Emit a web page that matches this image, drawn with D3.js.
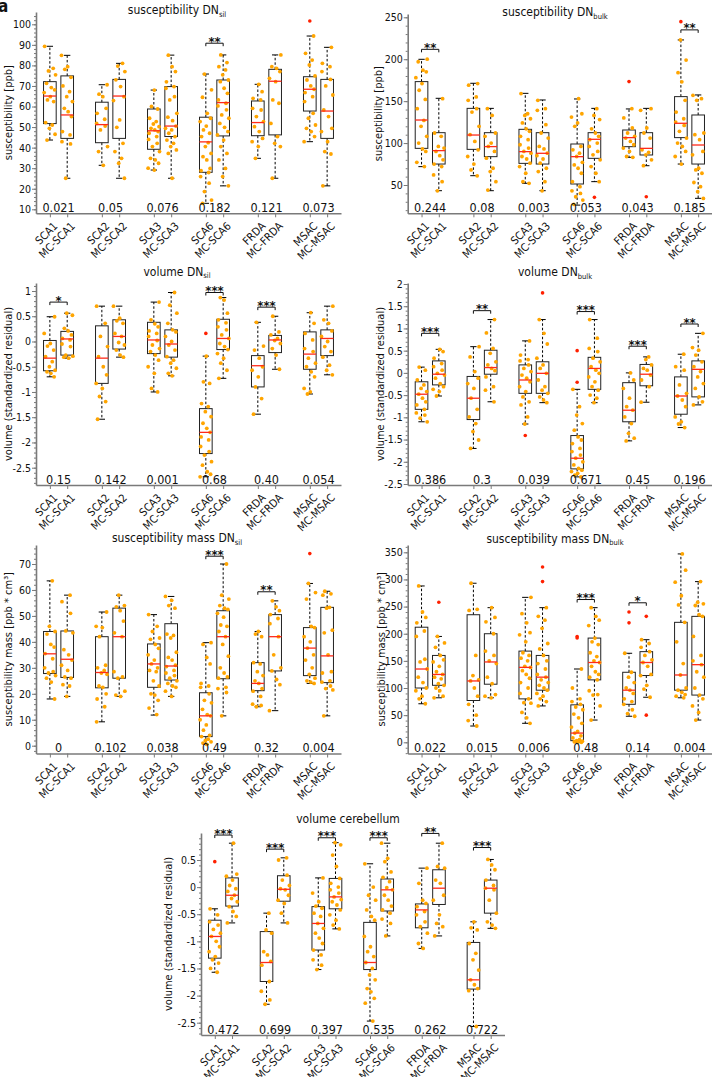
<!DOCTYPE html>
<html><head><meta charset="utf-8">
<script src="https://cdn.jsdelivr.net/npm/d3@7"></script>
<style>
body{margin:0;background:#fff}
svg{display:block}
text{font-family:"DejaVu Sans Condensed","DejaVu Sans",sans-serif;fill:#111}
</style>
</head><body><svg id="c" width="712" height="1077"></svg>
<script>
// ---------------- DATA ----------------
const categories = ["SCA1","MC-SCA1","SCA2","MC-SCA2","SCA3","MC-SCA3","SCA6","MC-SCA6","FRDA","MC-FRDA","MSAC","MC-MSAC"];

// box stats: [lower whisker, q1, median, q3, upper whisker]
const suscSilStats = [[43.7,51.7,65.1,72.1,89.3],[25.1,44.5,55.9,74.9,84.9],[31.4,42.4,51.2,62.1,70.6],[25.1,44.5,65.1,73.2,81],[29.1,39.2,48.2,58.8,68],[25.1,45.4,50.5,69.7,85],[12.9,28,42.8,54.8,75.8],[21.4,45.7,61.9,72.9,85.1],[34.8,45.8,52.2,62.7,70.8],[25.1,46.2,72.3,78.1,85.1],[42.9,57.8,68.4,74.5,94.3],[21.4,44.5,57.8,73.2,88.8]];
const suscSilPoints = [
[89.3,78.6,77.3,75.4,71.3,69.2,68.1,66.8,64.8,63.2,62.4,52.2,51,49.4,46.5,43.7],
[84.9,79.4,78.1,74.2,70,67.2,64.8,62.4,59.1,57.5,55.1,47.8,46.2,42.9,41.8,25.1],
[70.6,66,64.8,59.1,56.7,53.8,51.8,50.5,48.6,40.5,38.1,31.4],
[81,79.7,77,73,69.7,64.8,62.9,53.5,49.9,42.1,38.1,34.8,32.4,25.1],
[68,60,58.8,54.3,52.7,51.5,50.2,49.4,48.6,47.8,47,45.4,44,42.1,40.5,38.1,34.8,34,32.4,30,29.1],
[85,79.4,77,72,69.7,68.9,64.8,63.2,56.7,54.8,53.1,50.5,49.4,48.6,47,45.4,43.7,42.1,40.5,38.9,37.2,25.1],
[75.8,68.1,64.5,56.7,54.3,52.7,50.5,48.6,47,45.4,42.4,40.5,37.2,35.6,34,29.9,28.8,27.9,25.9,22.7,18.6,14.5,12.9],
[85.1,81.4,79.4,77.8,75.4,72.9,72.1,68.9,66.4,63.2,61.6,60.3,58.4,55.9,54.3,51.8,49.9,47.8,46.2,43.7,40.5,37.2,34,29.9,25.9,21.4],
[70.8,67.2,64,63.2,59.1,58.3,55.1,52.7,50.2,47.8,44.5,42.9,40.5,34.8],
[85.1,79.4,78.6,77,73.7,72.1,63.2,61.6,51.8,45.4,42.1,40.5,25.1],
[94.3,85.9,82.6,80.2,74.9,72.9,70,68.4,66.8,64.8,62.4,56.7,54.3,51,49.4,47.8,45.4,42.9],
[88.8,81,79.4,77,73.2,70,65.6,58.3,55.1,49.4,47.8,42.9,38.1,36.9,21.4]];
const suscSilOutliers = [[],[],[],[],[],[],[],[],[],[],[101.6],[]];
const suscSilP = ["0.021","0.05","0.076","0.182","0.121","0.073"];
const suscSilSig = [[3,"**",90.8]];
const suscSilTicks = [10,20,30,40,50,60,70,80,90,100];

const suscBulkStats = [[71.9,93.7,127.5,173.3,199.9],[43.2,75,91,112.4,153.4],[61.1,92.5,109.6,141.4,171.3],[43.2,83.8,95.8,112.4,141.4],[52,75.8,89.8,116.4,159.3],[43.2,75,87.8,112.4,151.4],[26,51.2,83.8,98.9,152.6],[54,81.8,104.5,112.4,141.4],[83,95.7,106.5,115.6,140.7],[73,85.8,93.7,112.4,141.4],[75,106.5,123.6,155.4,223],[34.1,75,97.7,133.5,157.4]];
const suscBulkPoints = [
[200,197,187,185,178,171,163,152,141,127,120,108,100,93,90,77,72],
[153,112,108,96,94,90,85,80,75,72,62,54,43],
[171,169,155,151,141,137,120,110,102,92,84,75,68,61],
[141,133,112,108,100,96,90,82,70,66,54,44],
[159,135,133,129,124,117,114,108,104,98,94,90,88,84,81,76,72,64,54,52],
[151,141,139,122,112,106,96,93,88,85,81,76,70,66,54,43],
[153,135,131,124,120,96,92,88,84,77,74,70,64,54,48,43,40,36,32,27],
[141,133,128,117,112,108,104,100,96,90,86,80,72,64,54],
[141,130,118,112,108,106,102,98,94,90,84,83],
[141,139,118,112,106,92,89,86,80,73],
[223,199,184,173,151,137,129,125,121,114,106,100,96,90,84,75],
[157,153,151,112,110,104,90,86,70,68,64,53,48,42,34]];
const suscBulkOutliers = [[],[],[],[],[],[],[],[35.3],[173.3],[36],[244.8],[]];
const suscBulkP = ["0.244","0.08","0.003","0.053","0.043","0.185"];
const suscBulkSig = [[0,"**",211.8],[5,"**",235]];
const suscBulkTicks = [50,100,150,200,250];

const volSilStats = [[-0.70,-0.58,-0.33,0.02,0.49],[-0.33,-0.27,0.05,0.20,0.56],[-1.54,-0.83,-0.33,0.31,0.70],[-0.31,-0.15,0.10,0.43,0.70],[-1.0,-0.24,0.03,0.38,0.78],[-0.68,-0.31,-0.05,0.23,0.97],[-2.68,-2.22,-1.80,-1.33,-0.29],[-0.73,-0.16,0.06,0.44,0.87],[-1.44,-0.90,-0.48,-0.28,0.38],[-0.55,-0.22,0.03,0.12,0.50],[-1.04,-0.55,-0.25,0.19,0.57],[-0.66,-0.28,0.06,0.23,0.70]];
const volSilPoints = [
[0.49,0.16,-0.04,-0.09,-0.17,-0.30,-0.40,-0.50,-0.57,-0.60,-0.63,-0.70],
[0.56,0.52,0.26,0.21,0.13,0.06,0.03,-0.05,-0.10,-0.27,-0.29,-0.31,-0.33],
[0.70,0.36,0.10,-0.10,-0.30,-0.50,-0.66,-0.83,-0.93,-1.09,-1.19,-1.54],
[0.70,0.46,0.41,0.36,0.16,0.10,-0.02,-0.07,-0.17,-0.27,-0.31],
[0.78,0.43,0.35,0.29,0.21,0.16,0.10,0.02,-0.07,-0.14,-0.20,-0.27,-0.37,-0.50,-0.63,-0.93,-1.0],
[0.97,0.72,0.56,0.36,0.23,0.19,0.10,0.0,-0.07,-0.17,-0.30,-0.37,-0.43,-0.53,-0.63,-0.68],
[-0.29,-0.80,-0.83,-1.23,-1.29,-1.39,-1.49,-1.62,-1.72,-1.80,-1.89,-1.95,-2.08,-2.18,-2.25,-2.38,-2.45,-2.58,-2.63,-2.68],
[0.87,0.82,0.56,0.43,0.37,0.29,0.23,0.13,0.06,-0.04,-0.10,-0.16,-0.24,-0.33,-0.43,-0.57,-0.73],
[0.38,-0.09,-0.17,-0.33,-0.50,-0.57,-0.70,-0.90,-1.13,-1.44],
[0.5,0.19,0.13,0.06,0.02,-0.04,-0.14,-0.27,-0.55],
[0.57,0.36,0.16,0.03,-0.14,-0.20,-0.33,-0.43,-0.50,-0.60,-0.70,-0.93,-1.0,-1.04],
[0.70,0.43,0.36,0.21,0.10,0.0,-0.10,-0.20,-0.31,-0.47,-0.57,-0.66]];
const volSilOutliers = [[],[],[],[],[],[],[0.16],[],[],[],[],[]];
const volSilP = ["0.15","0.142","0.001","0.68","0.40","0.054"];
const volSilSig = [[0,"*",0.78],[3,"***",0.97],[4,"***",0.68]];
const volSilTicks = [-2.5,-2,-1.5,-1,-0.5,0,0.5,1];

const volBulkStats = [[-1.10,-0.82,-0.48,-0.20,0.13],[-0.52,-0.27,-0.03,0.27,0.53],[-1.70,-1.05,-0.57,-0.08,0.59],[-0.65,-0.03,0.12,0.51,1.2],[-1.15,-0.46,-0.16,0.18,0.72],[-0.67,-0.46,-0.01,0.25,1.2],[-2.34,-2.16,-1.92,-1.41,-0.37],[-0.67,-0.37,0.10,0.35,1.2],[-1.53,-1.10,-0.84,-0.22,0.0],[-0.66,-0.29,-0.03,0.19,0.36],[-1.23,-0.93,-0.52,-0.09,0.42],[-0.72,-0.54,0.08,0.27,0.89]];
const volBulkPoints = [
[0.13,0.06,-0.16,-0.27,-0.35,-0.42,-0.48,-0.57,-0.65,-0.72,-0.82,-0.90,-0.95,-1.02,-1.10],
[0.53,0.48,0.33,0.21,0.14,0.06,-0.01,-0.05,-0.12,-0.24,-0.31,-0.37,-0.42,-0.52],
[0.59,0.36,0.03,-0.12,-0.24,-0.35,-0.57,-0.82,-0.99,-1.14,-1.32,-1.51,-1.70],
[1.2,0.9,0.55,0.44,0.25,0.18,0.10,0.05,-0.09,-0.31,-0.39,-0.65],
[0.72,0.40,0.30,0.27,0.18,0.10,0.03,-0.05,-0.12,-0.20,-0.31,-0.42,-0.54,-0.65,-0.72,-0.99,-1.15],
[1.2,0.89,0.65,0.33,0.18,0.10,-0.01,-0.16,-0.31,-0.39,-0.46,-0.54,-0.61,-0.67],
[-0.37,-0.76,-0.95,-1.14,-1.29,-1.44,-1.51,-1.59,-1.70,-1.77,-1.85,-1.92,-2.0,-2.07,-2.15,-2.19,-2.22,-2.26,-2.30,-2.34],
[1.2,0.78,0.55,0.48,0.33,0.25,0.14,0.06,-0.01,-0.09,-0.20,-0.31,-0.39,-0.50,-0.57,-0.67],
[0.0,-0.16,-0.35,-0.57,-0.76,-0.84,-0.99,-1.14,-1.36,-1.47,-1.53],
[0.36,0.30,0.18,0.10,0.06,-0.05,-0.16,-0.31,-0.66],
[0.42,0.14,0.06,-0.27,-0.46,-0.52,-0.61,-0.76,-0.99,-1.10,-1.15,-1.23],
[0.89,0.57,0.51,0.40,0.25,0.14,0.03,-0.09,-0.24,-0.35,-0.54,-0.65,-0.72]];
const volBulkOutliers = [[],[],[],[],[-1.41],[1.8],[0.5,-0.21],[],[],[],[],[]];
const volBulkP = ["0.386","0.3","0.039","0.671","0.45","0.196"];
const volBulkSig = [[0,"***",0.89],[1,"**",1.4],[3,"***",1.38],[4,"***",0.6],[5,"**",1.1]];
const volBulkTicks = [-2.5,-2,-1.5,-1,-0.5,0,0.5,1,1.5,2];

const massSilStats = [[18,27.8,35.4,44,63.5],[19,26.3,33.3,44.2,58],[9.2,22.3,28.2,42,51.5],[19,26,42,53,58],[11.8,22.5,31.5,39.2,50.5],[19,25.3,30.7,47,57.5],[0.5,3.5,11.5,20.4,39.7],[11.5,25.8,42,52,70],[15,21.2,24,32,44],[13.5,28.8,42,50.5,55.8],[24,27,37.6,45.5,62.5],[11.5,24.3,34.6,53.3,59.5]];
const massSilPoints = [
[63.5,46,44,43,39,38,35.5,33.5,30,28.5,28,27,26,24.5,18],
[58,55.5,51,44.2,43.5,37,35,33,31,29,26.5,26,23.5,23,19],
[51.5,46,45.5,42,31,30,29,28,27.5,23,22.5,20,18,15,9.2],
[58,54,53.5,52,48,43.5,42,28.5,26.5,26,21,19.5,19],
[50.5,46,44,41.5,41,39,37.5,35,33,31.5,30,29,28.5,25,23,20,19.5,17.5,14.5,12],
[57.5,56,54,53,43,42.5,41.5,36,34,33,31,30.5,29,28,27,26,25,24,23,22.5,21,19],
[39.7,39,34,31.5,24,23,22.5,20,17.5,16.5,14,12,11.5,10,8,6,4,3.5,2.5,2,1.5,1,0.5],
[70,58,56.5,54,53,52.5,51,49.5,46.5,46,44,42,39,34.5,30,28,26.5,26,22.5,22,20.5,11.5],
[44,43,42,32,31.5,28.5,27,25,24,22,21,19,16,15.5,15],
[55.8,53.5,52,50.5,49,47,42,35,30,28.8,25.5,23.5,13.5],
[62.5,59,56.5,46,45.5,42,40,37.6,35,33,30,27.5,26,25,24.5,24],
[59.5,58.5,58,53.3,53,44.5,43.5,35,28.5,28,25,24.5,23,22,21.5,11.5]];
const massSilOutliers = [[],[],[],[],[],[],[],[],[],[],[74],[]];
const massSilP = ["0","0.102","0.038","0.49","0.32","0.004"];
const massSilSig = [[3,"***",73],[4,"**",59.3]];
const massSilTicks = [0,10,20,30,40,50,60,70];

const massBulkStats = [[71,100,135,212,288],[82,105,125,160,195],[30,77,113,235,293],[82,107,148,200,248],[35,80,138,168,267],[67,96,120,160,248],[0,3,17,69,135],[41,115,147,192,248],[48,70,96,129,164],[83,123,147,167,189],[82,96,124,221,347],[41,87,143,232,296]];
const massBulkPoints = [
[288,240,230,220,205,195,153,148,135,120,110,100,95,85,80,71],
[195,183,175,160,152,148,140,130,125,120,117,108,105,100,95,85,82],
[293,245,243,160,123,115,113,100,85,70,50,40,30],
[248,230,222,200,168,160,150,145,120,108,88,85,82],
[267,237,220,202,198,185,165,160,155,150,140,138,132,125,118,110,100,90,80,73,72,55,45,35],
[248,232,225,210,182,172,160,150,145,135,125,120,115,110,105,100,96,90,85,80,75,67],
[135,100,80,75,70,65,60,52,45,35,28,20,17,12,8,5,3,2,1,0.5,0],
[248,232,225,215,192,185,180,165,158,150,147,140,130,125,120,115,95,88,87,67,41],
[164,129,120,110,100,96,90,80,75,70,60,53,48],
[189,182,175,167,160,152,147,140,125,123,105,98,83],
[347,317,295,270,253,221,185,145,124,100,96,92,88,85,82],
[296,258,255,252,235,232,195,160,150,143,130,120,100,87,80,67,55,41]];
const massBulkOutliers = [[],[258],[],[],[],[323,296],[195,192],[],[240,220],[232,50],[],[]];
const massBulkP = ["0.022","0.015","0.006","0.48","0.14","0.004"];
const massBulkSig = [[3,"***",263],[4,"*",257]];
const massBulkTicks = [0,50,100,150,200,250,300,350];

const volCbStats = [[-1.57,-1.31,-0.91,-0.61,-0.40],[-0.66,-0.35,-0.15,0.17,0.81],[-2.16,-1.74,-1.39,-0.82,-0.48],[-0.66,-0.26,-0.04,0.21,0.54],[-1.52,-1.16,-0.67,-0.36,0.17],[-0.77,-0.40,-0.18,0.16,0.82],[-2.47,-1.52,-1.39,-0.65,0.43],[-0.90,-0.44,-0.05,0.15,0.81],[-1.13,-0.75,-0.42,-0.31,0.35],[-0.90,-0.32,-0.02,0.32,0.81],[-2.57,-1.88,-1.71,-1.02,-0.64],[-0.76,-0.48,-0.02,0.13,0.51]];
const volCbPoints = [
[-0.40,-0.51,-0.64,-0.70,-0.78,-0.85,-0.91,-1.0,-1.10,-1.19,-1.28,-1.34,-1.40,-1.5,-1.57],
[0.81,0.24,0.2,0.13,0.03,-0.03,-0.08,-0.15,-0.21,-0.27,-0.36,-0.45,-0.54,-0.66],
[-0.48,-0.79,-0.85,-1.19,-1.25,-1.37,-1.44,-1.74,-1.92,-2.08,-2.16],
[0.54,0.5,0.22,0.13,0.03,-0.03,-0.05,-0.15,-0.24,-0.30,-0.48,-0.66],
[0.17,-0.11,-0.27,-0.35,-0.39,-0.48,-0.54,-0.67,-0.76,-0.85,-0.94,-1.04,-1.16,-1.25,-1.34,-1.44,-1.52],
[0.82,0.78,0.59,0.38,0.16,0.07,0.0,-0.05,-0.11,-0.18,-0.23,-0.27,-0.33,-0.42,-0.51,-0.61,-0.70,-0.77],
[0.43,0.0,-0.15,-0.24,-0.42,-0.54,-0.61,-0.91,-1.10,-1.19,-1.28,-1.39,-1.5,-1.62,-1.71,-1.87,-1.93,-2.05,-2.14,-2.47],
[0.81,0.53,0.47,0.28,0.18,0.1,-0.01,-0.05,-0.15,-0.24,-0.35,-0.42,-0.48,-0.59,-0.67,-0.90],
[0.35,0.07,-0.24,-0.30,-0.36,-0.45,-0.51,-0.64,-0.73,-0.85,-1.04,-1.13],
[0.81,0.38,0.35,0.13,0.07,-0.15,-0.24,-0.51,-0.67,-0.73,-0.90],
[-0.64,-0.75,-0.79,-1.04,-1.22,-1.34,-1.53,-1.71,-1.80,-1.87,-1.91,-2.57],
[0.51,0.41,0.32,0.13,0.03,-0.02,-0.05,-0.24,-0.48,-0.64,-0.70,-0.76]];
const volCbOutliers = [[0.47],[],[],[],[],[],[],[],[],[],[],[]];
const volCbP = ["0.472","0.699","0.397","0.535","0.262","0.722"];
const volCbSig = [[0,"***",0.96],[1,"***",0.70],[2,"***",0.91],[3,"***",0.91],[4,"**",0.99],[5,"***",0.73]];
const volCbTicks = [-2.5,-2,-1.5,-1,-0.5,0,0.5];

// ---------------- LAYOUT ----------------
const panels = [
 {title:"susceptibility DN", sub:"sil", ylab:"susceptibility [ppb]", stats:suscSilStats, pts:suscSilPoints, out:suscSilOutliers, p:suscSilP, sig:suscSilSig, ticks:suscSilTicks, minor:2,
  x0:36, x1:341, top:12, bottom:213.3, ref:[100,24.3,10,209.3], tx:177, ty:14, lx:8},
 {title:"susceptibility DN", sub:"bulk", ylab:"susceptibility [ppb]", stats:suscBulkStats, pts:suscBulkPoints, out:suscBulkOutliers, p:suscBulkP, sig:suscBulkSig, ticks:suscBulkTicks, minor:10,
  x0:407.7, x1:712, top:14, bottom:213.3, ref:[250,17.3,50,185], tx:555, ty:16, lx:378},
 {title:"volume DN", sub:"sil", ylab:"volume (standardized residual)", stats:volSilStats, pts:volSilPoints, out:volSilOutliers, p:volSilP, sig:volSilSig, ticks:volSilTicks, minor:0.1,
  x0:36, x1:341, top:283, bottom:485, ref:[1,291,-2.5,467.7], tx:177, ty:275.5, lx:8},
 {title:"volume DN", sub:"bulk", ylab:"volume (standardized residual)", stats:volBulkStats, pts:volBulkPoints, out:volBulkOutliers, p:volBulkP, sig:volBulkSig, ticks:volBulkTicks, minor:0.1,
  x0:407.7, x1:712, top:283, bottom:485, ref:[2,284,-2.5,484], tx:555, ty:276, lx:380},
 {title:"susceptibility mass DN", sub:"sil", ylab:"susceptibility mass [ppb * cm³]", stats:massSilStats, pts:massSilPoints, out:massSilOutliers, p:massSilP, sig:massSilSig, ticks:massSilTicks, minor:2,
  x0:36, x1:341, top:545, bottom:753.5, ref:[70,564,0,745.7], tx:177, ty:542, lx:8},
 {title:"susceptibility mass DN", sub:"bulk", ylab:"susceptibility mass [ppb * cm³]", stats:massBulkStats, pts:massBulkPoints, out:massBulkOutliers, p:massBulkP, sig:massBulkSig, ticks:massBulkTicks, minor:10,
  x0:407.7, x1:712, top:545, bottom:753.5, ref:[350,552.3,0,742.3], tx:555, ty:542.5, lx:381},
 {title:"volume cerebellum", sub:"", ylab:"volume (standardized residual)", stats:volCbStats, pts:volCbPoints, out:volCbOutliers, p:volCbP, sig:volCbSig, ticks:volCbTicks, minor:0.1,
  x0:201, x1:504.5, top:833, bottom:1035, ref:[0.5,860,-2.5,1022.7], tx:348, ty:823, lx:168}
];

const JIT = [-0.55,0.35,-0.15,0.6,-0.35,0.15,0.5,-0.6,0.05,-0.25,0.4,-0.45,0.25,-0.05,0.55,-0.3,0.1,0.45,-0.5,0.3];
const svg = d3.select("#c");
const AX = "#7a7a7a";

svg.append("text").attr("x",-2).attr("y",12).attr("font-size",17).attr("font-weight","bold").text("a");

panels.forEach((P,pi)=>{
  const g = svg.append("g");
  const x = d3.scaleLinear().domain([0.2,17.8]).range([P.x0,P.x1]);
  const yr = d3.scaleLinear().domain([P.ref[0],P.ref[2]]).range([P.ref[1],P.ref[3]]);
  const y = d3.scaleLinear().domain([yr.invert(P.bottom), yr.invert(P.top)]).range([P.bottom,P.top]);
  const pos = categories.map((c,i)=> i + Math.floor(i/2) + 1);
  const unit = x(2)-x(1);
  const bw = unit*0.73;

  const [d0,d1] = y.domain();
  const minorVals = d3.range(Math.ceil(d0/P.minor)*P.minor, d1+1e-9, P.minor).map(v=>+v.toFixed(4));
  g.append("g").attr("transform",`translate(${P.x0},0)`)
    .call(d3.axisLeft(y).tickValues(minorVals).tickSize(2).tickFormat("").tickSizeOuter(0))
    .call(s=>{s.select(".domain").remove(); s.selectAll("line").attr("stroke",AX);});
  g.append("g").attr("transform",`translate(${P.x0},0)`)
    .call(d3.axisLeft(y).tickValues(P.ticks).tickSize(4).tickSizeOuter(0).tickFormat(d=>String(d)))
    .call(s=>{
      s.select(".domain").attr("stroke",AX).attr("stroke-width",1.6);
      s.selectAll("line").attr("stroke",AX);
      s.selectAll("text").attr("font-size",10.5).attr("fill","#111").attr("x",-5)
        .style("font-family",'"DejaVu Sans Condensed","DejaVu Sans",sans-serif');
    });
  g.append("g").attr("transform",`translate(0,${P.bottom})`)
    .call(d3.axisBottom(x).tickValues(pos).tickSize(4).tickSizeOuter(0).tickFormat(""))
    .call(s=>{s.select(".domain").attr("stroke",AX).attr("stroke-width",1.6); s.selectAll("line").attr("stroke",AX);});
  categories.forEach((c,i)=>{
    g.append("text").attr("transform",`translate(${x(pos[i])+3},${P.bottom+8}) rotate(-45)`)
      .attr("text-anchor","end").attr("dy","0.7em").attr("font-size",11).text(c);
  });

  P.stats.forEach((s,i)=>{
    const cx = x(pos[i]);
    const [lw,q1,md,q3,uw] = s;
    g.append("line").attr("x1",cx).attr("x2",cx).attr("y1",y(q3)).attr("y2",y(uw)).attr("stroke","#000").attr("stroke-dasharray","2.5,2").attr("stroke-width",1);
    g.append("line").attr("x1",cx).attr("x2",cx).attr("y1",y(q1)).attr("y2",y(lw)).attr("stroke","#000").attr("stroke-dasharray","2.5,2").attr("stroke-width",1);
    [lw,uw].forEach(v=> g.append("line").attr("x1",cx-bw/4).attr("x2",cx+bw/4).attr("y1",y(v)).attr("y2",y(v)).attr("stroke","#000").attr("stroke-width",1));
    g.append("rect").attr("x",cx-bw/2).attr("y",y(q3)).attr("width",bw).attr("height",y(q1)-y(q3))
      .attr("fill","none").attr("stroke","#222").attr("stroke-width",1);
  });
  P.pts.forEach((arr,i)=>{
    const cx = x(pos[i]);
    arr.forEach((v,k)=>{
      const j = JIT[(k + i*7 + pi*3) % JIT.length];
      g.append("circle").attr("cx",cx + j*bw*0.75).attr("cy",y(v)).attr("r",1.9).attr("fill","#FFA500");
    });
  });
  P.stats.forEach((s,i)=>{
    const cx = x(pos[i]);
    g.append("line").attr("x1",cx-bw/2).attr("x2",cx+bw/2).attr("y1",y(s[2])).attr("y2",y(s[2])).attr("stroke","#ff2a1a").attr("stroke-width",1.3);
  });
  P.out.forEach((arr,i)=>{
    const cx = x(pos[i]);
    arr.forEach(v=> g.append("circle").attr("cx",cx).attr("cy",y(v)).attr("r",1.8).attr("fill","#ff2000"));
  });
  P.sig.forEach(([gi,stars,v])=>{
    const xa = x(pos[gi*2]), xb = x(pos[gi*2+1]), yy = y(v);
    g.append("path").attr("d",`M${xa},${yy+3}V${yy}H${xb}V${yy+3}`).attr("fill","none").attr("stroke","#111").attr("stroke-width",1);
    g.append("text").attr("x",(xa+xb)/2).attr("y",yy+2.5).attr("text-anchor","middle").attr("font-size",13).attr("font-weight","bold").text(stars);
  });
  P.p.forEach((t,gi)=>{
    g.append("text").attr("x",(x(pos[gi*2])+x(pos[gi*2+1]))/2).attr("y",P.bottom-1.5).attr("text-anchor","middle").attr("font-size",12.5).text(t);
  });
  const t = g.append("text").attr("x",P.tx).attr("y",P.ty).attr("text-anchor","middle").attr("font-size",12);
  t.append("tspan").text(P.title);
  if (P.sub) t.append("tspan").attr("font-size",7.5).attr("dy",2.5).text(P.sub);
  g.append("text").attr("transform",`translate(${P.lx},${(P.top+P.bottom)/2}) rotate(-90)`)
    .attr("text-anchor","middle").attr("dy","0.35em").attr("font-size",11).text(P.ylab);
});
</script></body></html>
